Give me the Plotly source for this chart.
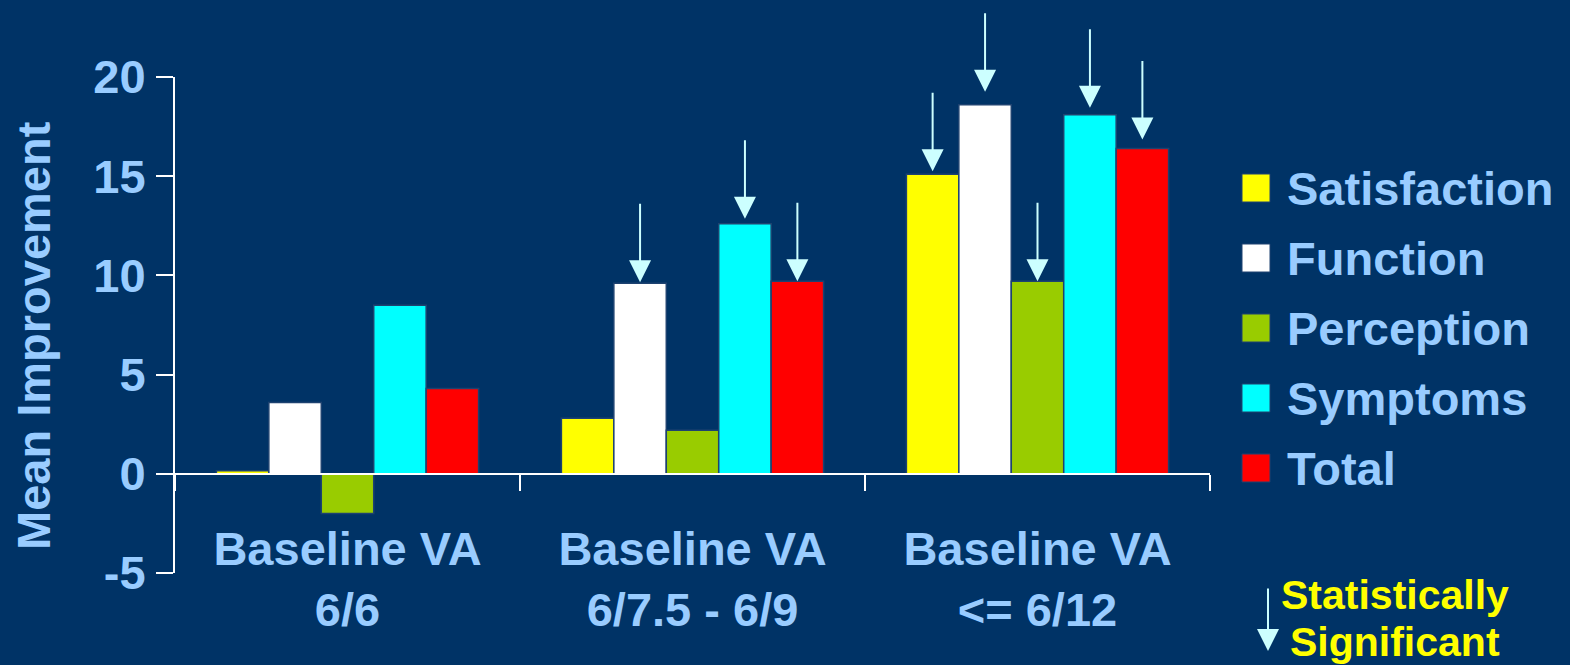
import plotly.graph_objects as go

# Mean improvement by baseline visual acuity group
categories = ["Baseline VA<br>6/6", "Baseline VA<br>6/7.5 - 6/9", "Baseline VA<br>&lt;= 6/12"]
series_names = ["Satisfaction", "Function", "Perception", "Symptoms", "Total"]
satisfaction = [0.15, 2.8, 15.1]
function = [3.6, 9.6, 18.6]
perception = [-2.0, 2.2, 9.7]
symptoms = [8.5, 12.6, 18.1]
total = [4.3, 9.7, 16.4]
# statistically significant results (True = arrow drawn above the bar)
sig_satisfaction = [False, False, True]
sig_function = [False, True, True]
sig_perception = [False, False, True]
sig_symptoms = [False, True, True]
sig_total = [False, True, True]
y_ticks = [-5, 0, 5, 10, 15, 20]

series_values = [satisfaction, function, perception, symptoms, total]
series_sig = [sig_satisfaction, sig_function, sig_perception, sig_symptoms, sig_total]
colors = ["#FFFF00", "#FFFFFF", "#99CC00", "#00FFFF", "#FF0000"]
# pixel gap between each arrow tip and the top of its bar
arrow_gaps = [
    [0, 0, 3],
    [0, 1, 13],
    [0, 0, 0],
    [0, 5, 7],
    [0, 0, 9],
]

BG = "#003366"
TXT = "#99CCFF"
ARROW = "#CCFFFF"
FONT = "Liberation Sans, Arial, sans-serif"

W, H = 1570, 665
ML, MR, MT, MB = 175, 360, 77, 92
PW, PH = W - ML - MR, H - MT - MB
BARGAP = 0.24
ARROW_LEN = 80


def px_to_paper_x(px):
    return (px - ML) / PW


def px_to_paper_y(py):
    return (H - MB - py) / PH


fig = go.Figure()
for name, vals, col in zip(series_names, series_values, colors):
    fig.add_trace(go.Bar(
        name=name, x=categories, y=vals,
        marker=dict(color=col, line=dict(color="#1E4270", width=1.5)),
        showlegend=False,
    ))

# significance arrows, shifted horizontally onto each bar of the group
cat_px = PW / len(categories)
bar_px = cat_px * (1 - BARGAP) / len(series_names)
annotations = []
for i, (vals, sig, gaps) in enumerate(zip(series_values, series_sig, arrow_gaps)):
    shift = (i - (len(series_names) - 1) / 2) * bar_px
    for cat, v, s, g in zip(categories, vals, sig, gaps):
        if s:
            annotations.append(dict(
                x=cat, y=v, xref="x", yref="y", xshift=shift,
                showarrow=True, ax=0, ay=-(ARROW_LEN + g), axref="pixel", ayref="pixel",
                arrowhead=2, arrowsize=2.2, arrowwidth=2, arrowcolor=ARROW,
                standoff=g, text="",
            ))

# y axis title
annotations.append(dict(
    x=px_to_paper_x(33), y=px_to_paper_y(336), xref="paper", yref="paper",
    text="Mean Improvement", textangle=-90, showarrow=False,
    xanchor="center", yanchor="middle",
    font=dict(family=FONT, size=47, color=TXT, weight="bold"),
))

# legend built from squares and labels
legend_y = [188, 258, 328, 398, 468]
shapes = []
for name, col, cy in zip(series_names, colors, legend_y):
    shapes.append(dict(
        type="rect", xref="paper", yref="paper",
        x0=px_to_paper_x(1242), x1=px_to_paper_x(1270),
        y0=px_to_paper_y(cy + 14), y1=px_to_paper_y(cy - 14),
        fillcolor=col, line=dict(color="#1E4270", width=1),
    ))
    annotations.append(dict(
        x=px_to_paper_x(1285), y=px_to_paper_y(cy), xref="paper", yref="paper",
        text=name, showarrow=False, xanchor="left", yanchor="middle",
        font=dict(family=FONT, size=47, color=TXT, weight="bold"),
    ))

# "Statistically Significant" key
annotations.append(dict(
    x=px_to_paper_x(1268), y=px_to_paper_y(651), xref="paper", yref="paper",
    showarrow=True, ax=0, ay=-64, axref="pixel", ayref="pixel",
    arrowhead=2, arrowsize=2.2, arrowwidth=2, arrowcolor=ARROW, text="",
))
for line, cy in zip(["Statistically", "Significant"], [595, 642]):
    annotations.append(dict(
        x=px_to_paper_x(1395), y=px_to_paper_y(cy), xref="paper", yref="paper",
        text=line, showarrow=False, xanchor="center", yanchor="middle",
        font=dict(family=FONT, size=41, color="#FFFF00", weight="bold"),
    ))

fig.update_layout(
    width=W, height=H,
    margin=dict(l=ML, r=MR, t=MT, b=MB, pad=0),
    paper_bgcolor=BG, plot_bgcolor=BG,
    barmode="group", bargap=BARGAP, bargroupgap=0,
    showlegend=False,
    annotations=annotations, shapes=shapes,
    xaxis=dict(
        type="category", anchor="free", position=0.2,
        showline=True, linecolor="white", linewidth=2,
        ticks="outside", tickson="boundaries", ticklen=16, tickwidth=2, tickcolor="white",
        showgrid=False, zeroline=False, ticklabelstandoff=34,
        tickfont=dict(family=FONT, size=47, color=TXT, weight="bold"),
    ),
    yaxis=dict(
        range=[-5, 20], tickvals=y_ticks, ticktext=[str(t) for t in y_ticks],
        showline=True, linecolor="white", linewidth=2,
        ticks="outside", ticklen=17, tickwidth=2, tickcolor="white",
        showgrid=False, zeroline=False, ticklabelstandoff=1,
        tickfont=dict(family=FONT, size=47, color=TXT, weight="bold"),
    ),
)

fig.write_html("out.html")
